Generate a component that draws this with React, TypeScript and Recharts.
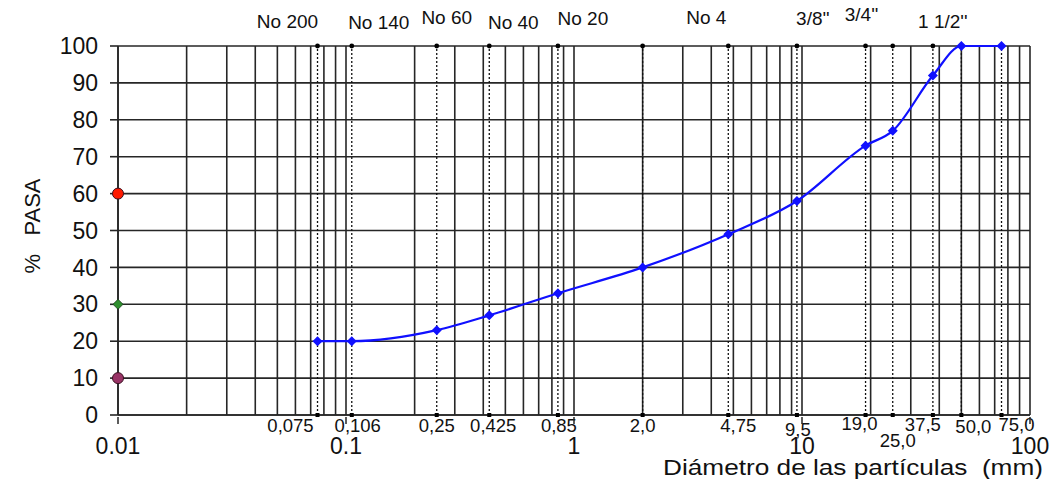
import React from "react";
import {
  CartesianGrid,
  ComposedChart,
  Line,
  ReferenceLine,
  Scatter,
  XAxis,
  YAxis,
} from "recharts";

// sieve openings (mm) and the share passing each one
const sieveSizes = [0.075, 0.106, 0.25, 0.425, 0.85, 2.0, 4.75, 9.5, 19.0, 25.0, 37.5, 50.0, 75.0];
const sieveSizeLabels = ["0,075", "0,106", "0,25", "0,425", "0,85", "2,0", "4,75", "9,5", "19,0", "25,0", "37,5", "50,0", "75,0"];
const sieveNames = ["No 200", "No 140", "No 60", "No 40", "No 20", "", "No 4", "3/8''", "3/4''", "", "1 1/2''", "", ""];
const percentPassing = [20, 20, 23, 27, 33, 40, 49, 58, 73, 77, 92, 100, 100];

const yTicks = [0, 10, 20, 30, 40, 50, 60, 70, 80, 90, 100];
const decadeTicks = [0.01, 0.1, 1, 10, 100];
const decadeLabels = ["0.01", "0.1", "1", "10", "100"];

// D60 / D30 / D10 marks on the left axis
const markerLevels = [60, 30, 10];
const markerNames = ["D60", "D30", "D10"];

const FONT = "'Liberation Sans', Arial, sans-serif";
const TEXT = "#111";
const GRID = "#262626";

// where each sieve label sits relative to its line [dx, dy]
const TOP_POS: Record<string, [number, number]> = {
  "No 200": [-30, -18],
  "No 140": [27, -17],
  "No 60": [10, -22],
  "No 40": [24, -17],
  "No 20": [25, -21],
  "No 4": [-22, -22],
  "3/8''": [16, -21],
  "3/4''": [-4, -25],
  "1 1/2''": [10, -18],
};
const BOTTOM_POS: Record<string, [number, number]> = {
  "0,075": [-27, 17],
  "0,106": [6, 17],
  "0,25": [0, 17],
  "0,425": [4, 17],
  "0,85": [1, 17],
  "2,0": [0, 17],
  "4,75": [10, 17],
  "9,5": [1, 21],
  "19,0": [-6, 15],
  "25,0": [5, 32],
  "37,5": [-10, 16],
  "50,0": [12, 18],
  "75,0": [15, 16],
};
const MARKER_STYLE: Record<string, { shape: "circle" | "diamond"; fill: string }> = {
  D60: { shape: "circle", fill: "#ff1a00" },
  D30: { shape: "diamond", fill: "#2f8f2f" },
  D10: { shape: "circle", fill: "#993366" },
};

const gridTicks: number[] = [];
decadeTicks.slice(0, -1).forEach((d) => {
  for (let m = 1; m < 10; m++) gridTicks.push(Number((d * m).toPrecision(3)));
});
gridTicks.push(100);

const curve = sieveSizes.map((size, i) => ({ size, pasa: percentPassing[i] }));
const topRows = sieveSizes.map((size, i) => ({ size, pasa: 100, name: sieveNames[i] }));
const bottomRows = sieveSizes.map((size, i) => ({ size, pasa: 0, name: sieveSizeLabels[i] }));
const markers = markerLevels.map((pasa, i) => ({ size: 0.01, pasa, name: markerNames[i] }));

function DecadeTick(props: any) {
  const { x, y, payload } = props;
  const idx = decadeTicks.findIndex((d) => Math.abs(d - payload.value) < 1e-9);
  if (idx < 0) return null;
  return (
    <g>
      <line x1={x} x2={x} y1={y} y2={y + 7} stroke={GRID} strokeWidth={1.5} />
      <text x={x} y={y + 37} textAnchor="middle" fontSize={23} fontFamily={FONT} fill={TEXT}>
        {decadeLabels[idx]}
      </text>
    </g>
  );
}

function TopLabel(props: any) {
  const { cx, cy, payload } = props;
  const pos = TOP_POS[payload.name];
  return (
    <g>
      <circle cx={cx} cy={cy} r={2.4} fill="#000" />
      {pos ? (
        <text x={cx + pos[0]} y={cy + pos[1]} textAnchor="middle" fontSize={19} fontFamily={FONT} fill={TEXT}>
          {payload.name}
        </text>
      ) : null}
    </g>
  );
}

function BottomLabel(props: any) {
  const { cx, cy, payload } = props;
  const pos = BOTTOM_POS[payload.name] ?? [0, 17];
  return (
    <g>
      <rect x={cx - 2} y={cy - 2} width={4} height={4} fill="#000" />
      <text x={cx + pos[0]} y={cy + pos[1]} textAnchor="middle" fontSize={18.5} fontFamily={FONT} fill={TEXT}>
        {payload.name}
      </text>
    </g>
  );
}

function MarkerShape(props: any) {
  const { cx, cy, payload } = props;
  const st = MARKER_STYLE[payload.name];
  if (st.shape === "diamond") {
    return <path d={`M${cx},${cy - 5}L${cx + 5},${cy}L${cx},${cy + 5}L${cx - 5},${cy}Z`} fill={st.fill} stroke="#1a3a1a" strokeWidth={0.8} />;
  }
  return <circle cx={cx} cy={cy} r={5.5} fill={st.fill} stroke="#3a1020" strokeWidth={1} />;
}

function Diamond(props: any) {
  const { cx, cy } = props;
  if (cx == null || cy == null) return null;
  return <path d={`M${cx},${cy - 5}L${cx + 5},${cy}L${cx},${cy + 5}L${cx - 5},${cy}Z`} fill="#1010ff" />;
}

export default function App() {
  return (
    <div style={{ position: "absolute", left: 0, top: 0, width: 1050, height: 479, background: "#fff" }}>
      <ComposedChart width={1050} height={479} margin={{ top: 46, right: 20, bottom: 14, left: 0 }}>
        <CartesianGrid stroke={GRID} strokeWidth={1.6} />
        <XAxis
          dataKey="size"
          type="number"
          scale="log"
          domain={[0.01, 100]}
          ticks={gridTicks}
          interval={0}
          height={50}
          axisLine={{ stroke: GRID, strokeWidth: 1.6 }}
          tickLine={false}
          tickSize={0}
          tick={<DecadeTick />}
        />
        <YAxis
          dataKey="pasa"
          type="number"
          domain={[0, 100]}
          ticks={yTicks}
          interval={0}
          width={118}
          axisLine={{ stroke: GRID, strokeWidth: 1.6 }}
          tickLine={{ stroke: GRID, strokeWidth: 1.6 }}
          tickSize={8}
          tickMargin={12}
          tick={{ fontSize: 23, fontFamily: FONT, fill: TEXT }}
        />
        {sieveSizes.map((s) => (
          <ReferenceLine key={s} x={s} stroke="#111" strokeWidth={1.3} strokeDasharray="2 2" />
        ))}
        <Scatter data={topRows} dataKey="pasa" shape={<TopLabel />} isAnimationActive={false} />
        <Scatter data={bottomRows} dataKey="pasa" shape={<BottomLabel />} isAnimationActive={false} />
        <Line
          data={curve}
          dataKey="pasa"
          type="monotone"
          stroke="#1010ff"
          strokeWidth={2.2}
          dot={<Diamond />}
          activeDot={false}
          isAnimationActive={false}
        />
        <Scatter data={markers} dataKey="pasa" shape={<MarkerShape />} isAnimationActive={false} />
      </ComposedChart>
      <svg width={1050} height={479} style={{ position: "absolute", left: 0, top: 0, pointerEvents: "none" }}>
        <text transform="translate(40,226) rotate(-90)" textAnchor="middle" fontSize={22} fontFamily={FONT} fill={TEXT}>
          {"%\u00A0\u00A0 PASA"}
        </text>
        <text
          x={663}
          y={475}
          fontSize={22}
          fontFamily={FONT}
          fill={TEXT}
          textLength={380}
          lengthAdjust="spacingAndGlyphs"
        >
          {"Diámetro de las partículas\u00A0\u00A0(mm)"}
        </text>
      </svg>
    </div>
  );
}
